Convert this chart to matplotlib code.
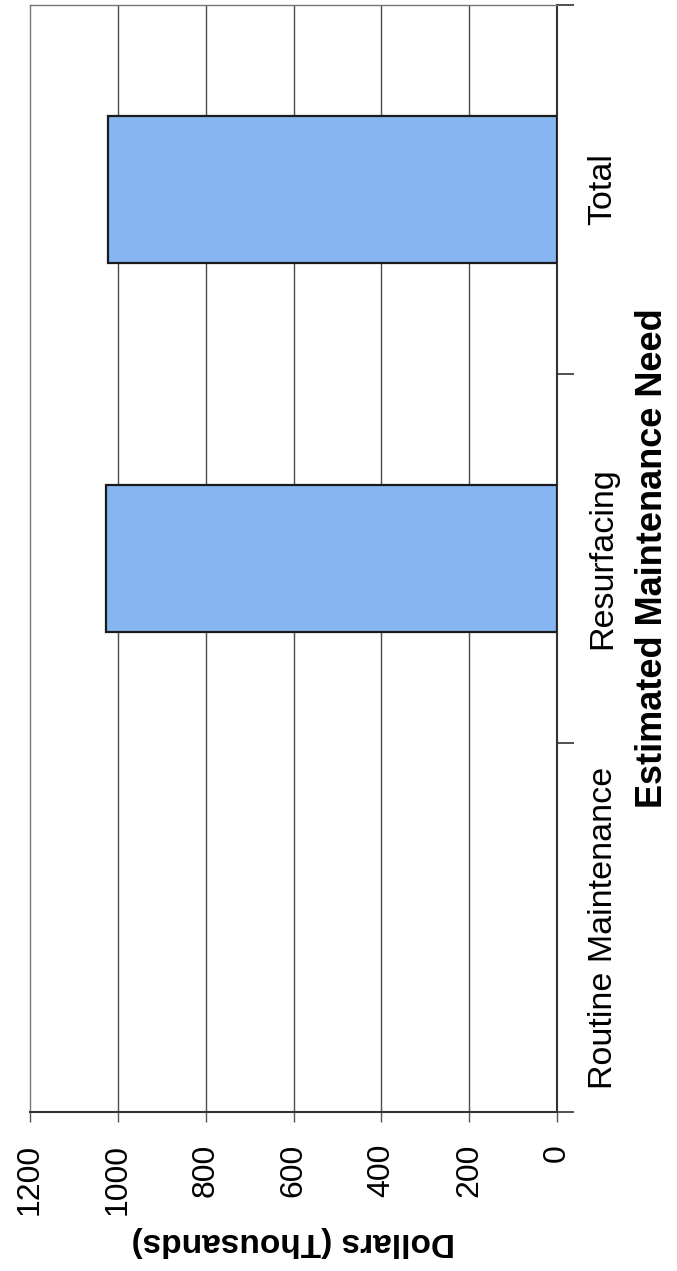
import matplotlib
matplotlib.use("Agg")
import matplotlib.pyplot as plt
from matplotlib.ticker import FixedLocator

plt.rcParams['font.family'] = ['Liberation Sans', 'DejaVu Sans']

categories = ["Routine Maintenance", "Resurfacing", "Total"]
values = [0, 1027, 1023]
value_ticks = [0, 200, 400, 600, 800, 1000, 1200]
value_tick_labels = ["0", "200", "400", "600", "800", "1000", "1200"]
x_title = "Estimated Maintenance Need"
y_title = "Dollars (Thousands)"

W, H = 677, 1271
fig = plt.figure(figsize=(W / 100, H / 100), dpi=100)
L, R, T, B = 30, 557, 5, 1112
ax = fig.add_axes([L / W, 1 - B / H, (R - L) / W, (B - T) / H])

pos = list(range(len(categories)))
lws = [1.6 if v > 0 else 0 for v in values]
ax.barh(pos, values, height=0.4, color="#86b6f2", edgecolor="#1a1a1a",
        linewidth=lws, zorder=3)

ax.set_xlim(1200, 0)
ax.set_ylim(-0.5, len(categories) - 0.5)

# value axis (bottom)
ax.set_xticks(value_ticks)
ax.set_xticklabels(value_tick_labels, rotation=90, fontsize=23)
ax.tick_params(axis="x", direction="out", length=7, width=1, color="#555555", pad=16)
for v in value_ticks[1:-1]:
    ax.axvline(v, color="#4a4a4a", linewidth=1.0, zorder=1)

# category axis (right)
ax.yaxis.tick_right()
ax.set_yticks(pos)
ax.set_yticklabels(categories, rotation=90, fontsize=24.5, va="center")
ax.tick_params(axis="y", which="major", length=0, pad=22)
ax.yaxis.set_minor_locator(FixedLocator([p - 0.5 for p in pos] + [pos[-1] + 0.5]))
ax.tick_params(axis="y", which="minor", direction="out", length=12, width=1.2,
               color="#333333", right=True, left=False)

ax.yaxis.set_label_position("right")
ax.set_ylabel(x_title, fontsize=26, fontweight="bold", rotation=90, labelpad=12)
ax.set_xlabel(y_title, fontsize=24, fontweight="bold", rotation=180, labelpad=8)

for side in ["top", "left"]:
    ax.spines[side].set_color("#777777")
    ax.spines[side].set_linewidth(1.0)
for side in ["bottom", "right"]:
    ax.spines[side].set_color("#333333")
    ax.spines[side].set_linewidth(1.5)

fig.savefig("out.png", dpi=100)
